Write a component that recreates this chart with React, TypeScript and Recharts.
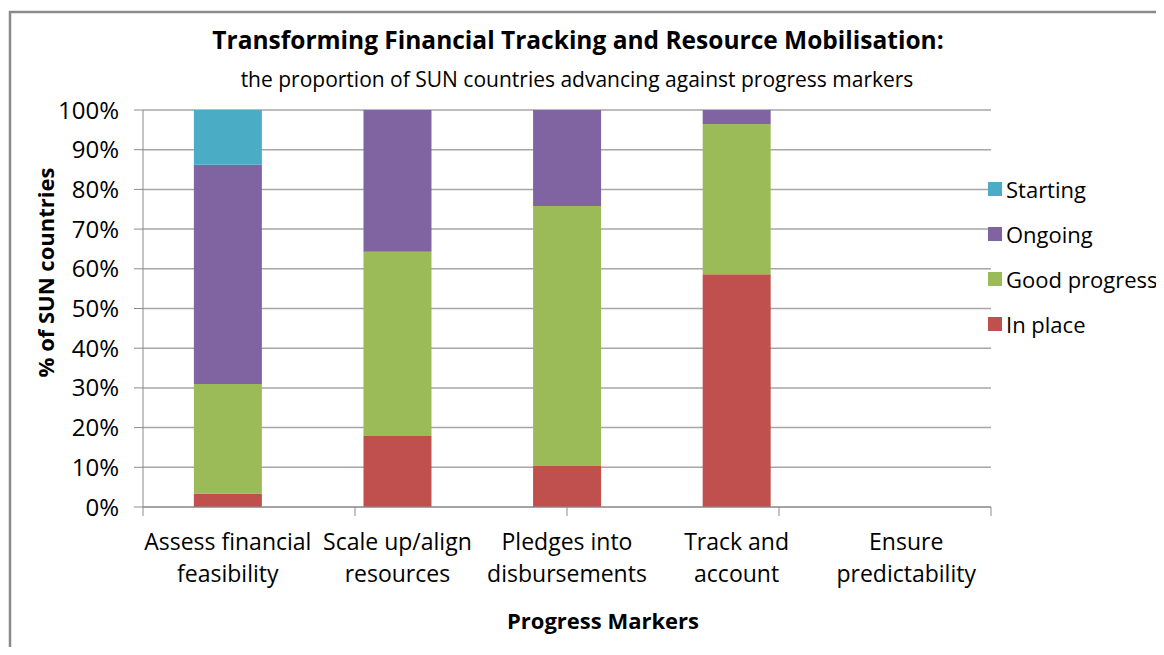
import React from "react";
import { BarChart, Bar, XAxis, YAxis, CartesianGrid, Legend, Label } from "recharts";

const FONT = "'Open Sans', 'Liberation Sans', sans-serif";

// progress markers (two-line axis labels)
const markers = [
  ["Assess financial", "feasibility"],
  ["Scale up/align", "resources"],
  ["Pledges into", "disbursements"],
  ["Track and", "account"],
  ["Ensure", "predictability"],
];

// % of SUN countries per stage
const inPlace = [3.4, 17.9, 10.3, 58.6, 0];
const goodProgress = [27.6, 46.4, 65.5, 37.9, 0];
const ongoing = [55.2, 35.7, 24.2, 3.5, 0];
const starting = [13.8, 0, 0, 0, 0];

const legendOrder = ["Starting", "Ongoing", "Good progress", "In place"];
const yTicks = [0, 10, 20, 30, 40, 50, 60, 70, 80, 90, 100];
const edgeTicks = [0, 1, 2, 3, 4, 5];

const data = markers.map((m, i) => ({
  name: m.join(" "),
  inPlace: inPlace[i],
  goodProgress: goodProgress[i],
  ongoing: ongoing[i],
  starting: starting[i],
}));

const GRID = "#a6a6a6";
const AXIS = "#8c8c8c";

const CategoryTick = (props: any) => {
  const { x, y, index } = props;
  const lines = markers[index] || [];
  return (
    <text x={x} y={y} textAnchor="middle" fontFamily={FONT} fontSize={23} fill="#000">
      {lines.map((l, i) => (
        <tspan key={i} x={x} dy={i === 0 ? 0 : 32}>
          {l}
        </tspan>
      ))}
    </text>
  );
};

const LegendContent = (props: any) => {
  const items = [...(props.payload || [])].sort(
    (a: any, b: any) => legendOrder.indexOf(a.value) - legendOrder.indexOf(b.value)
  );
  return (
    <div style={{ display: "flex", flexDirection: "column" }}>
      {items.map((p: any) => (
        <div key={p.value} style={{ display: "flex", alignItems: "center", height: 45 }}>
          <span style={{ width: 14, height: 14, background: p.color, marginRight: 4, flex: "none" }} />
          <span style={{ fontFamily: FONT, fontSize: 22, color: "#000", whiteSpace: "nowrap" }}>{p.value}</span>
        </div>
      ))}
    </div>
  );
};

export default function App() {
  return (
    <div style={{ position: "relative", width: 1164, height: 655, margin: -8, overflow: "hidden", background: "#fff" }}>
      <BarChart
        width={1164}
        height={655}
        data={data}
        margin={{ top: 110, right: 173, bottom: 146, left: 0 }}
        barCategoryGap="30%"
      >
        <CartesianGrid vertical={false} stroke={GRID} strokeWidth={1.5} />
        <XAxis
          xAxisId={0}
          type="number"
          domain={[0, 5]}
          allowDataOverflow
          ticks={edgeTicks}
          height={1}
          tick={() => null}
          tickSize={9}
          stroke={AXIS}
          tickLine={{ stroke: AXIS }}
        />
        <XAxis
          xAxisId="cat"
          dataKey="name"
          height={1}
          axisLine={false}
          tickLine={false}
          tickSize={0}
          tickMargin={42}
          interval={0}
          tick={<CategoryTick />}
        >
          <Label
            content={(p: any) => {
              const vb = p.viewBox || {};
              return (
                <text
                  x={vb.x + vb.width / 2 + 36}
                  y={vb.y + 121}
                  textAnchor="middle"
                  fontFamily={FONT}
                  fontSize={22}
                  fontWeight="bold"
                  fill="#000"
                >
                  Progress Markers
                </text>
              );
            }}
          />
        </XAxis>
        <YAxis
          type="number"
          domain={[0, 100]}
          ticks={yTicks}
          width={143}
          tickFormatter={(v) => `${v}%`}
          tick={{ fontFamily: FONT, fontSize: 24, fill: "#000" }}
          tickSize={9}
          tickMargin={15}
          stroke={AXIS}
          tickLine={{ stroke: AXIS }}
        >
          <Label
            content={(p: any) => {
              const vb = p.viewBox || {};
              const cx = vb.x + 45;
              const cy = vb.y + vb.height / 2 - 36;
              return (
                <text
                  x={cx}
                  y={cy}
                  transform={`rotate(-90 ${cx} ${cy})`}
                  textAnchor="middle"
                  dominantBaseline="central"
                  fontFamily={FONT}
                  fontSize={22}
                  fontWeight="bold"
                  fill="#000"
                >
                  % of SUN countries
                </text>
              );
            }}
          />
        </YAxis>
        <Legend
          layout="vertical"
          align="center"
          verticalAlign="middle"
          wrapperStyle={{ left: 988, top: 166, width: 176 }}
          content={<LegendContent />}
        />
        <Bar xAxisId="cat" dataKey="inPlace" name="In place" stackId="a" fill="#C0504D" isAnimationActive={false} />
        <Bar xAxisId="cat" dataKey="goodProgress" name="Good progress" stackId="a" fill="#9BBB59" isAnimationActive={false} />
        <Bar xAxisId="cat" dataKey="ongoing" name="Ongoing" stackId="a" fill="#8064A2" isAnimationActive={false} />
        <Bar xAxisId="cat" dataKey="starting" name="Starting" stackId="a" fill="#4BACC6" isAnimationActive={false} />
      </BarChart>
      <svg
        width={1164}
        height={655}
        style={{ position: "absolute", left: 0, top: 0, pointerEvents: "none" }}
      >
        <path d="M10,655 V12 H1164" fill="none" stroke="#8a8a8a" strokeWidth={2.5} />
        <text x={578} y={49} textAnchor="middle" fontFamily={FONT} fontSize={24.5} fontWeight="bold" fill="#000">
          Transforming Financial Tracking and Resource Mobilisation:
        </text>
        <text x={577} y={87} textAnchor="middle" fontFamily={FONT} fontSize={21} fill="#000">
          the proportion of SUN countries advancing against progress markers
        </text>
      </svg>
    </div>
  );
}
